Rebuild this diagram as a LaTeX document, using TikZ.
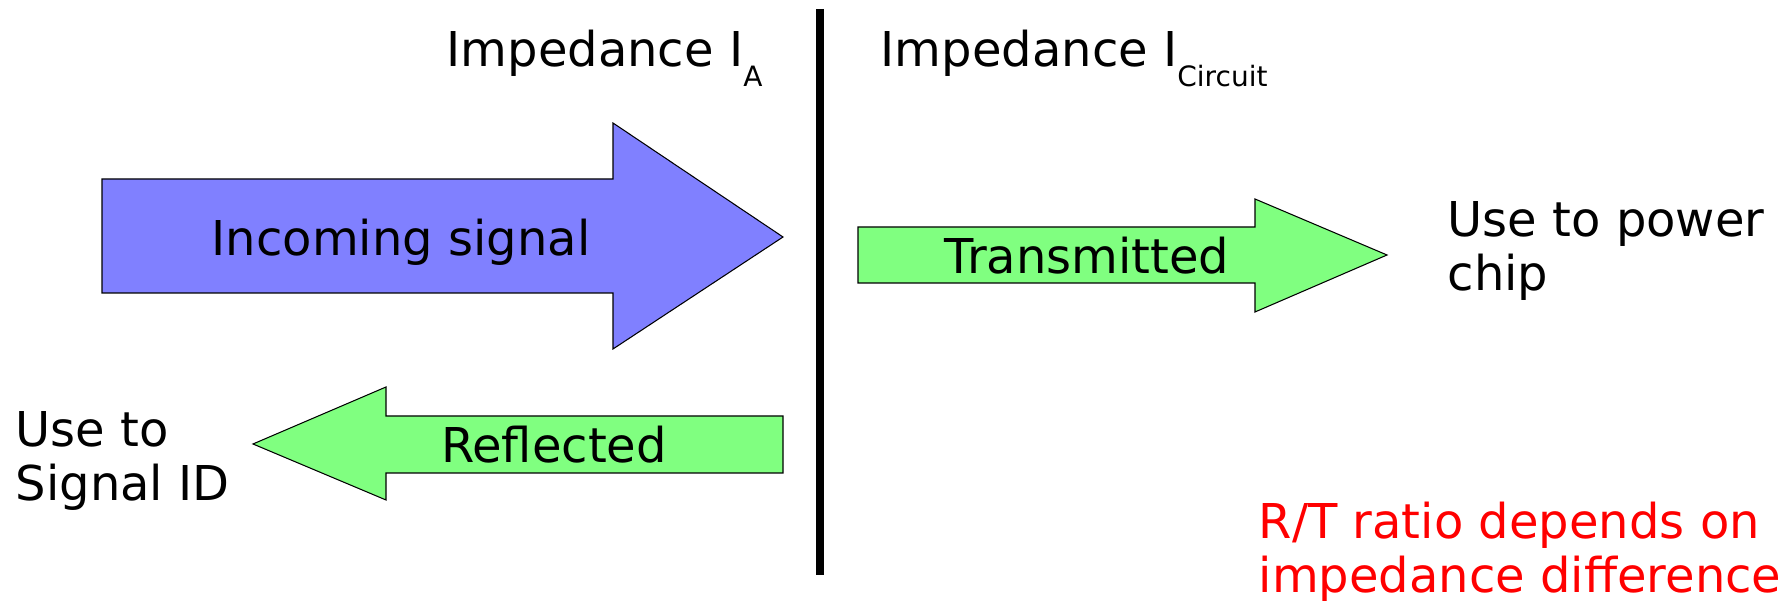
\documentclass[tikz,border=0pt]{standalone}
\usepackage{fontspec}
\setmainfont{DejaVu Sans}
\definecolor{sigblue}{HTML}{8080FF}
\definecolor{siggreen}{HTML}{80FF80}
\newcommand{\labelfont}{\fontsize{13.66pt}{15.6pt}\selectfont}
\newcommand{\subfont}{\fontsize{7.97pt}{9pt}\selectfont}
\newcommand{\impsub}[1]{\raisebox{-2mm}{\subfont #1}}
\tikzset{
  txt/.style={inner sep=0pt, font=\labelfont},
  block/.style={draw=black, line width=0.3pt, line join=miter},
}
\begin{document}
\begin{tikzpicture}[x=0.1mm, y=-0.1mm]
                \useasboundingbox (0,0) rectangle (1792,601);
                % the boundary between the two impedances
                \coordinate (wtop) at (820,9); \coordinate (wbot) at (820,575);
                \draw[line width=0.8mm] (wtop) -- (wbot);
                \node[txt, anchor=base west] (impA) at (446,67) {Impedance I\impsub{A}}; \node[txt, anchor=base west] (impC) at (880,67) {Impedance I\impsub{Circuit}};

                % the three signals
                \draw[block, fill=sigblue] (102,179) -- (613,179) -- (613,123) -- (783,237) -- (613,349) -- (613,293) -- (102,293) -- cycle;
                \draw[block, fill=siggreen] (858,227) -- (1255,227) -- (1255,199) -- (1387,255) -- (1255,312) -- (1255,283) -- (858,283) -- cycle;
                \draw[block, fill=siggreen] (783,416) -- (386,416) -- (386,387) -- (253,444) -- (386,500) -- (386,473) -- (783,473) -- cycle;
                \node[txt, anchor=base] (inc) at (401,256) {Incoming signal}; \node[txt, anchor=base] (trans) at (1087,274) {Transmitted}; \node[txt, anchor=base] (refl) at (554,463) {Reflected};

                % what each part is used for (anchored on the last line)
                \node[txt, anchor=base west, align=left] (usepow) at (1447,291) {Use to power\\chip};
                \node[txt, anchor=base west, align=left] (useid) at (15,501) {Use to\\Signal ID};
                \node[txt, anchor=base west, align=left, text=red] (ratio) at (1258,593) {R/T ratio depends on\\impedance difference};
\end{tikzpicture}
\end{document}
